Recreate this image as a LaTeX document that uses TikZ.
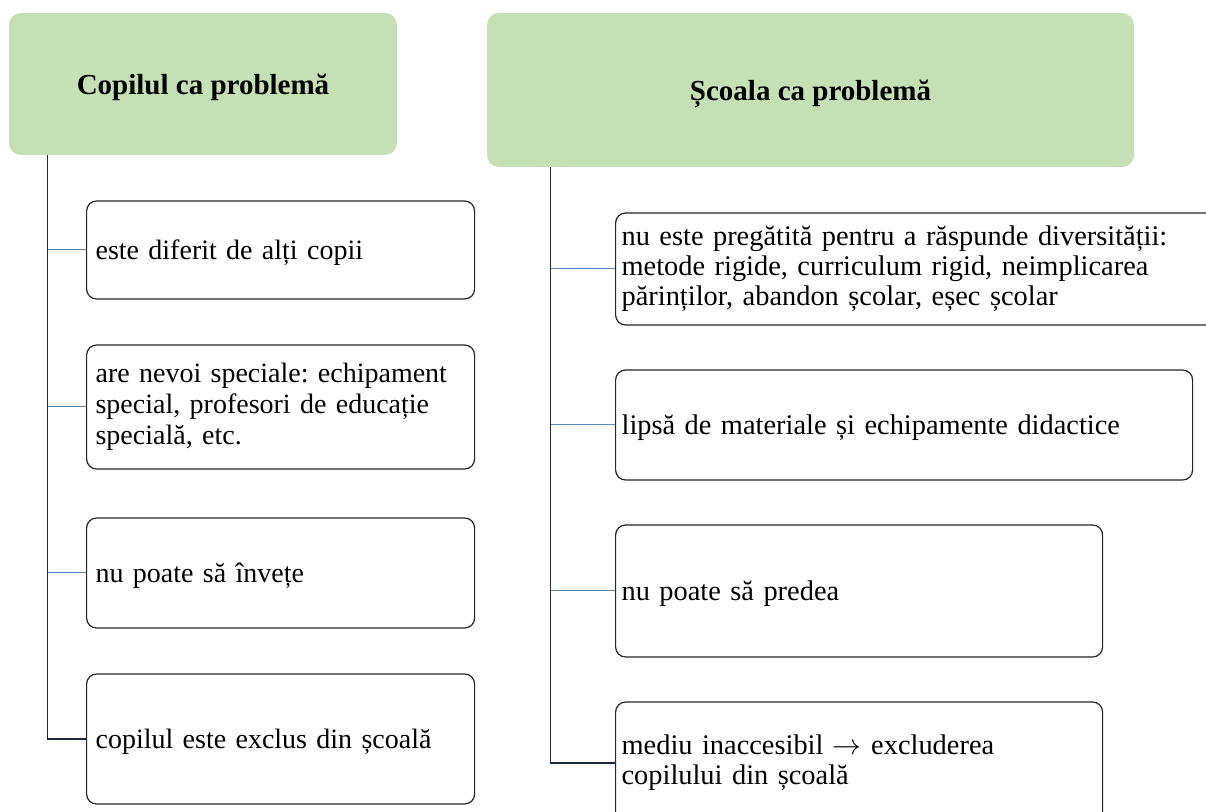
\documentclass[tikz,border=0pt]{standalone}
\usepackage{fontspec}
\setmainfont{Liberation Serif}
\usepackage{xcolor}
\definecolor{headgreen}{HTML}{C5E0B4}
\definecolor{linkblue}{HTML}{5A8AC0}
\definecolor{trunkblue}{HTML}{1C2A44}
\frenchspacing

\begin{document}
\begin{tikzpicture}[x=0.5pt, y=-0.5pt,
    head/.style={fill=headgreen, rounded corners=6pt, inner sep=0pt, text depth=0pt, font=\fontsize{14.5}{16}\selectfont\bfseries},
    item/.style={draw=black!85, line width=0.6pt, fill=white, rounded corners=5pt, align=left, inner ysep=0pt, anchor=west, font=\fontsize{14}{15.5}\selectfont},
    oneline/.style={text depth=0pt},
    link/.style={draw=linkblue, line width=0.5pt},
    trunk/.style={draw=trunkblue, line width=0.6pt}]
  \useasboundingbox (0,0) rectangle (1206,812);

  \node[head, minimum width=194pt, minimum height=71pt] (copil) at (203,84) {Copilul ca problemă};
  \node[head, minimum width=323.5pt, minimum height=77pt] (scoala) at (810.5,90) {Școala ca problemă};

  \node[item, oneline, inner xsep=4.5pt, text width=185pt, minimum height=49pt] (c1) at (86,250) {este diferit de alți copii};
  \node[item, inner xsep=4.5pt, text width=185pt, minimum height=62pt] (c2) at (86,407) {are nevoi speciale: echipament\\special, profesori de educație\\specială, etc.};
  \node[item, oneline, inner xsep=4.5pt, text width=185pt, minimum height=55pt] (c3) at (86,573) {nu poate să învețe};
  \node[item, oneline, inner xsep=4.5pt, text width=185pt, minimum height=65pt] (c4) at (86,739) {copilul este exclus din școală};

  \node[item, font=\fontsize{14.2}{15}\selectfont, inner xsep=3pt, text width=294pt, minimum height=56pt] (s1) at (615,269) {nu este pregătită pentru a răspunde diversității:\\metode rigide, curriculum rigid, neimplicarea\\părinților, abandon școlar, eșec școlar};
  \node[item, oneline, font=\fontsize{14.2}{15}\selectfont, inner xsep=3pt, text width=282.5pt, minimum height=55pt] (s2) at (615,425) {lipsă de materiale și echipamente didactice};
  \node[item, oneline, font=\fontsize{14.2}{15}\selectfont, inner xsep=3pt, text width=237.5pt, minimum height=66pt] (s3) at (615,591) {nu poate să predea};
  \node[item, font=\fontsize{14.2}{15}\selectfont, inner xsep=3pt, text width=237.5pt, minimum height=61pt] (s4) at (615,763) {mediu inaccesibil $\rightarrow$ excluderea\\copilului din școală};

  \coordinate (lt) at ([xshift=19.5pt]copil.south west);
  \coordinate (rt) at ([xshift=32pt]scoala.south west);
  \foreach \n in {c1,c2,c3}
    \draw[link] (lt |- \n.west) -- (\n.west);
  \draw[trunk] (lt) |- (c4.west);
  \foreach \n in {s1,s2,s3}
    \draw[link] (rt |- \n.west) -- (\n.west);
  \draw[trunk] (rt) |- (s4.west);
\end{tikzpicture}
\end{document}
